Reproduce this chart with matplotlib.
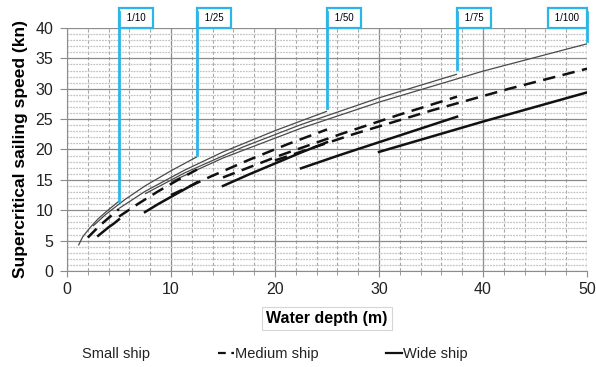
import matplotlib
matplotlib.use("Agg")
import matplotlib.pyplot as plt
from matplotlib.lines import Line2D
from matplotlib.ticker import MultipleLocator

plt.rcParams['font.family'] = ['Liberation Sans', 'DejaVu Sans']

# model scales and the depth limit each one reaches (0.5 m basin)
scale_labels = ['1/10', '1/25', '1/50', '1/75', '1/100']
depth_limits = [5, 12.5, 25, 37.5, 50]
cyan_ends = [11.6, 19.1, 26.9, 33.2, 37.8]

# small ship, one segment per scale (water depth m, speed kn)
small_x = [[1.1, 1.5, 2.25, 3, 4, 5],
           [2.5, 3.75, 5.6, 7.5, 10, 12.5],
           [5, 7.5, 11.25, 15, 20, 25],
           [7.5, 11.25, 16.9, 22.5, 30, 37.5],
           [10, 15, 22.5, 30, 40, 50]]
small_y = [[4.2, 5.6, 7.2, 8.6, 10.1, 11.5],
           [7.4, 9.35, 11.8, 14.0, 16.5, 18.8],
           [10.3, 13.1, 16.55, 19.6, 23.1, 26.3],
           [12.7, 16.1, 20.4, 24.1, 28.5, 32.4],
           [14.7, 18.6, 23.5, 27.8, 32.9, 37.4]]

# medium ship
medium_x = [[2, 2.75, 3.5, 4.25, 5],
            [5, 6.875, 8.75, 10.625, 12.5],
            [10, 13.75, 17.5, 21.25, 25],
            [15, 20.6, 26.25, 31.9, 37.5],
            [20, 27.5, 35, 42.5, 50]]
medium_y = [[5.5, 6.8, 8.0, 9.1, 10.2],
            [8.96, 11.1, 13.1, 14.95, 16.7],
            [12.5, 15.5, 18.3, 20.9, 23.3],
            [15.4, 19.1, 22.5, 25.7, 28.7],
            [18.2, 22.5, 26.4, 30.0, 33.3]]

# wide ship
wide_x = [[3, 3.5, 4, 4.5, 5],
          [7.5, 8.75, 10, 11.25, 12.5],
          [15, 17.5, 20, 22.5, 25],
          [22.5, 26.25, 30, 33.75, 37.5],
          [30, 35, 40, 45, 50]]
wide_y = [[5.8, 6.5, 7.2, 7.8, 8.5],
          [9.7, 11.0, 12.2, 13.4, 14.6],
          [14.0, 15.9, 17.7, 19.5, 21.2],
          [16.9, 19.1, 21.2, 23.3, 25.4],
          [19.6, 22.1, 24.6, 27.0, 29.4]]

cyan = '#2bb5e8'

fig = plt.figure(figsize=(5.96, 3.67), dpi=100)
ax = fig.add_axes([0.1124, 0.2616, 0.8726, 0.6621])

ax.set_xlim(0, 50)
ax.set_ylim(0, 40)
ax.xaxis.set_major_locator(MultipleLocator(10))
ax.xaxis.set_minor_locator(MultipleLocator(2))
ax.yaxis.set_major_locator(MultipleLocator(5))
ax.yaxis.set_minor_locator(MultipleLocator(1))

ax.grid(which='minor', axis='y', color='#c4c4c4', lw=0.9, ls=(0, (1.5, 0.8)))
ax.grid(which='minor', axis='x', color='#a8a8a8', lw=0.8, ls=(0, (3, 2)))
ax.grid(which='major', color='#8c8c8c', lw=0.9)
ax.set_axisbelow(True)

for s in ['top', 'right']:
    ax.spines[s].set_visible(False)
for s in ['left', 'bottom']:
    ax.spines[s].set_color('#8c8c8c')

ax.tick_params(which='both', direction='out', color='#8c8c8c', labelsize=11.5,
               labelcolor='#222222')
ax.tick_params(axis='x', which='major', length=4, pad=4)
ax.tick_params(axis='x', which='minor', length=3)
ax.tick_params(axis='y', which='major', length=5, pad=5)
ax.tick_params(axis='y', which='minor', length=0)

for xs, ys in zip(small_x, small_y):
    ax.plot(xs, ys, color='#4a4a4a', lw=0.9, solid_capstyle='butt')
for xs, ys in zip(medium_x, medium_y):
    ax.plot(xs, ys, color='#111111', lw=1.8, ls=(0, (5, 3)))
for xs, ys in zip(wide_x, wide_y):
    ax.plot(xs, ys, color='#111111', lw=1.8)

# cyan scale markers
for lab, d, ye in zip(scale_labels, depth_limits, cyan_ends):
    ax.plot([d, d], [ye, 42.6], color=cyan, lw=2, clip_on=False, zorder=5)
    if d < 50:
        ax.annotate(' ' + lab + ' ', xy=(d, 40), xytext=(3.5, 7.4),
                    textcoords='offset points', ha='left', va='center',
                    fontsize=7, annotation_clip=False,
                    bbox=dict(boxstyle='square,pad=0.5', fc='white', ec=cyan, lw=1.6))
    else:
        ax.annotate(' ' + lab + ' ', xy=(d, 40), xytext=(-3.5, 7.4),
                    textcoords='offset points', ha='right', va='center',
                    fontsize=7, annotation_clip=False,
                    bbox=dict(boxstyle='square,pad=0.5', fc='white', ec=cyan, lw=1.6))

ax.set_ylabel('Supercritical sailing speed (kn)', fontsize=12.5, fontweight='bold',
              labelpad=5)
ax.set_xlabel('Water depth (m)', fontsize=11.5, fontweight='bold', labelpad=10,
              bbox=dict(boxstyle='square,pad=0.25', fc='white', ec='#d6d6d6', lw=0.8))

handles = [Line2D([], [], color='none'),
           Line2D([], [], color='#111111', lw=1.6, ls=(0, (3.5, 2.5))),
           Line2D([], [], color='#111111', lw=1.6)]
fig.legend(handles, ['Small ship', 'Medium ship', 'Wide ship'], ncol=3,
           loc='center', bbox_to_anchor=(0.447, 0.035), frameon=False,
           fontsize=10.5, handlelength=1.1, handletextpad=0.1, columnspacing=4.6,
           labelcolor='#222222')

fig.savefig('out.png', dpi=100)
